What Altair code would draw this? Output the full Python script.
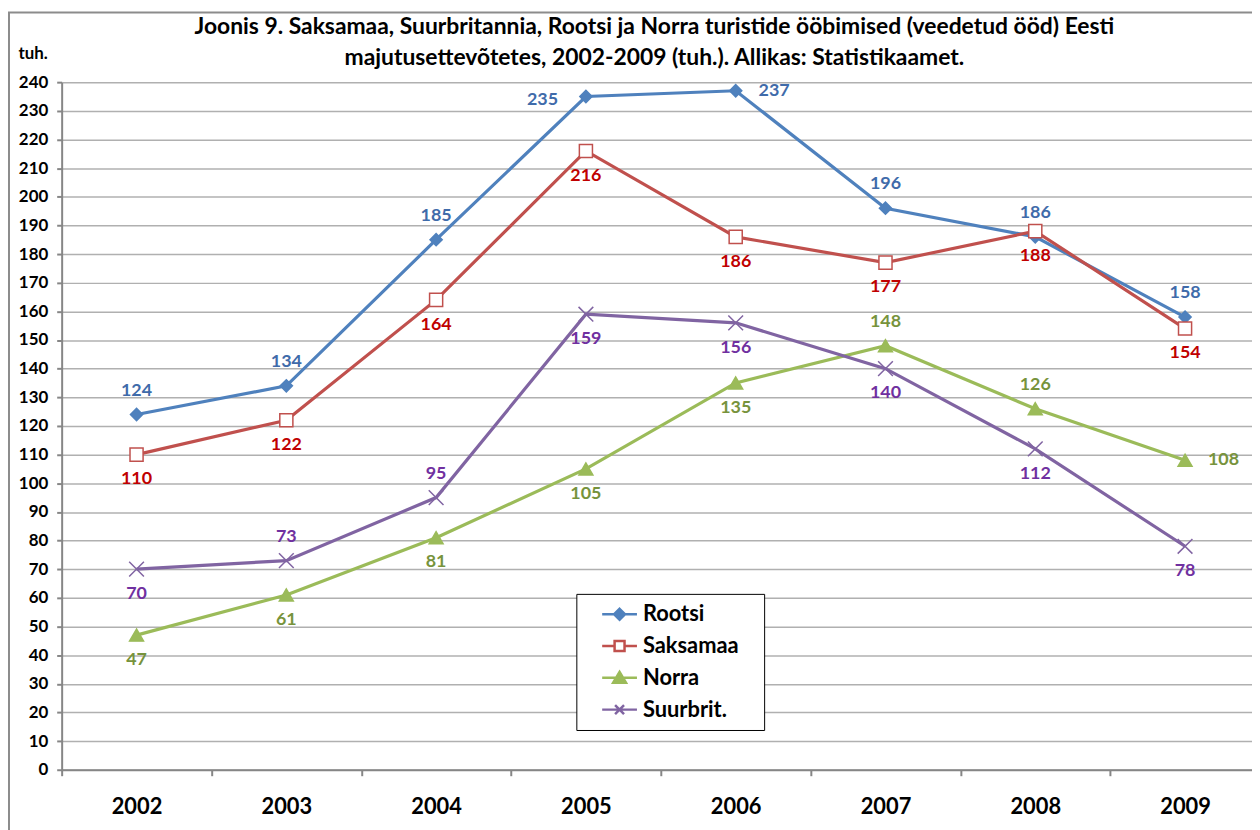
import altair as alt
import pandas as pd

years = ["2002", "2003", "2004", "2005", "2006", "2007", "2008", "2009"]
series = ["Rootsi", "Saksamaa", "Norra", "Suurbrit."]

rootsi = [124, 134, 185, 235, 237, 196, 186, 158]
saksamaa = [110, 122, 164, 216, 186, 177, 188, 154]
norra = [47, 61, 81, 105, 135, 148, 126, 108]
suurbrit = [70, 73, 95, 159, 156, 140, 112, 78]

# label placement relative to each point
rootsi_pos = ["above", "above", "above", "left", "right", "above", "above", "above"]
saksamaa_pos = ["below", "below", "below", "below", "below", "below", "below", "below"]
norra_pos = ["below", "below", "below", "below", "below", "above", "above", "right"]
suurbrit_pos = ["below", "above", "above", "below", "below", "below", "below", "below"]

line_colors = ["#4F81BD", "#C0504D", "#9BBB59", "#8064A2"]
label_colors = ["#3F6BAA", "#C00000", "#77933C", "#7030A0"]
marker_fill = ["#4F81BD", "#FFFFFF", "#9BBB59", "transparent"]
marker_shapes = ["diamond", "square", "triangle-up", "M-1,-1L1,1M-1,1L1,-1"]
marker_sizes = [150, 220, 330, 170]
legend_shapes = [
    "M-1.75,0L1.75,0M0,-0.55L0.55,0L0,0.55L-0.55,0Z",
    "M-1.75,0L-0.5,0M0.5,0L1.75,0M-0.5,-0.5L0.5,-0.5L0.5,0.5L-0.5,0.5Z",
    "M-1.75,0L1.75,0M0,-0.6L0.65,0.5L-0.65,0.5Z",
    "M-1.75,0L1.75,0M-0.45,-0.45L0.45,0.45M-0.45,0.45L0.45,-0.45",
]

title_lines = [
    "Joonis 9. Saksamaa, Suurbritannia, Rootsi ja Norra turistide ööbimised (veedetud ööd) Eesti",
    "majutusettevõtetes, 2002-2009 (tuh.). Allikas: Statistikaamet.",
]

rows = []
for name, vals, pos in zip(series, [rootsi, saksamaa, norra, suurbrit],
                           [rootsi_pos, saksamaa_pos, norra_pos, suurbrit_pos]):
    for y, v, p in zip(years, vals, pos):
        rows.append({"year": y, "series": name, "value": v, "pos": p})
df = pd.DataFrame(rows)

FONT = "Lato"
W, H = 1193, 692

x_enc = alt.X("year:O", title=None, bandPosition=0.5,
              scale=alt.Scale(type="band", domain=years, range=[0, 1206],
                              paddingInner=0, paddingOuter=0),
              axis=alt.Axis(tickBand="extent", labelAngle=0, labelFontSize=22,
                            labelFont=FONT, labelFontWeight="bold", labelColor="black",
                            tickSize=6, tickColor="#868686", tickWidth=2,
                            domainColor="#868686", domainWidth=2, labelPadding=21,
                            grid=False))
y_enc = alt.Y("value:Q",
              scale=alt.Scale(domain=[0, 240], nice=False),
              axis=alt.Axis(values=list(range(0, 241, 10)), title="tuh.",
                            titleAngle=0, titleX=-44, titleY=-29, titleAlign="left",
                            titleBaseline="middle", titleFont=FONT, titleFontSize=17,
                            titleFontWeight="bold", titleColor="black",
                            labelFont=FONT, labelFontSize=17, labelFontWeight="bold",
                            labelColor="black", labelPadding=9, tickSize=5,
                            tickColor="#868686", tickWidth=2, domainColor="#868686",
                            domainWidth=2, grid=True, gridColor="#B0B0B0",
                            gridWidth=1.5))

base = alt.Chart(df)

frame = alt.Chart(pd.DataFrame({"k": [0]})).mark_rect(
    fill="transparent", stroke="#8C8C8C", strokeWidth=2
).encode(
    x=alt.value(-53), x2=alt.value(W + 40), y=alt.value(-70), y2=alt.value(H + 80)
)

lines = base.mark_line(strokeWidth=3.2).encode(
    x=x_enc, y=y_enc,
    color=alt.Color("series:N", scale=alt.Scale(domain=series, range=line_colors), legend=None),
    order=alt.Order("year:O"),
)

points = base.mark_point(strokeWidth=1.5, opacity=1).encode(
    x=x_enc, y=y_enc,
    shape=alt.Shape("series:N", scale=alt.Scale(domain=series, range=marker_shapes), legend=None),
    fill=alt.Fill("series:N", scale=alt.Scale(domain=series, range=marker_fill), legend=None),
    color=alt.Color("series:N", scale=alt.Scale(domain=series, range=line_colors), legend=None),
    size=alt.Size("series:N", scale=alt.Scale(domain=series, range=marker_sizes), legend=None),
)

leg = alt.Legend(title=None, orient="none", legendX=518, legendY=515,
                 fillColor="white", strokeColor="black", padding=9,
                 symbolOffset=23, symbolSize=400, symbolStrokeWidth=2.5,
                 symbolOpacity=1, labelOffset=12, rowPadding=9, labelLimit=400,
                 labelFont=FONT, labelFontSize=22, labelFontWeight="bold",
                 labelColor="black",
                 labelExpr="datum.label + '\u2800'")

legend_layer = base.mark_point(opacity=0, strokeWidth=2.5).encode(
    x=x_enc, y=y_enc,
    shape=alt.Shape("series:N", scale=alt.Scale(domain=series, range=legend_shapes), legend=leg),
    fill=alt.Fill("series:N", scale=alt.Scale(domain=series, range=marker_fill), legend=leg),
    color=alt.Color("series:N", scale=alt.Scale(domain=series, range=line_colors), legend=leg),
)

def labels(pos, **kw):
    return base.mark_text(font=FONT, fontSize=18, fontWeight="bold", **kw).encode(
        x=x_enc, y=y_enc, text=alt.Text("value:Q"),
        color=alt.Color("series:N", scale=alt.Scale(domain=series, range=label_colors), legend=None),
    ).transform_filter(alt.datum.pos == pos)

above = labels("above", dy=-24)
below = labels("below", dy=25)
right = labels("right", dx=23, align="left")
left = labels("left", dx=-28, dy=4, align="right")

chart = alt.layer(frame, lines, points, legend_layer, above, below, right, left).resolve_scale(
    color="independent", fill="independent", shape="independent", size="independent"
).properties(
    width=W, height=H,
    autosize=alt.AutoSizeParams(type="none"),
    padding={"left": 54, "top": 72, "right": 5, "bottom": 58},
    title=alt.Title(title_lines, font=FONT, fontSize=23, fontWeight="bold", color="black",
                    anchor="middle", frame="group", offset=12, lineHeight=31, dy=71),
).configure_view(stroke=None)

chart.save("out.html", embed_options={"renderer": "svg", "actions": False})
